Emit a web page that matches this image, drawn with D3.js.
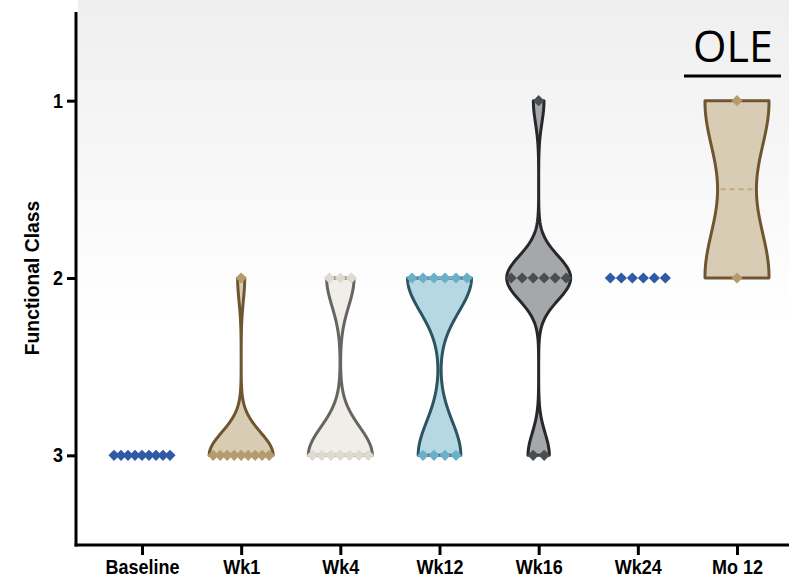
<!DOCTYPE html>
<html>
<head>
<meta charset="utf-8">
<script src="https://cdn.jsdelivr.net/npm/d3@7"></script>
<style>
  html, body { margin: 0; padding: 0; background: #ffffff; }
  svg { display: block; }
</style>
</head>
<body>
<svg id="chart" width="789" height="577"></svg>
<script>
// ---------------- DATA ----------------
const categories = ["Baseline", "Wk1", "Wk4", "Wk12", "Wk16", "Wk24", "Mo 12"];
const baseline = [3, 3, 3, 3, 3, 3, 3, 3, 3];
const wk1  = [3, 3, 3, 3, 3, 3, 3, 3, 3, 2];
const wk4  = [2, 2, 2, 3, 3, 3, 3, 3, 3, 3];
const wk12 = [2, 2, 2, 2, 2, 2, 3, 3, 3, 3];
const wk16 = [1, 2, 2, 2, 2, 2, 2, 3, 3];
const wk24 = [2, 2, 2, 2, 2, 2];
const mo12 = [1, 2];
const yTicks = [1, 2, 3];
const yDomain = [0.5, 3.5];
const sectionLabel = "OLE";
const yTitle = "Functional Class";

// ---------------- STYLE ----------------
const groups = [baseline, wk1, wk4, wk12, wk16, wk24, mo12];
const fills    = [null, "#d9ccb4", "#f0eee9", "#b5d8e3", "#a6a7aa", null, "#d9ccb4"];
const outlines = [null, "#6f5630", "#676562", "#2c5561", "#27282a", null, "#6f5630"];
const dots     = ["#2f5aa6", "#b59b6e", "#dedad0", "#6ab0ca", "#4a4d52", "#2f5aa6", "#b59b6e"];
const bandwidths = [0.13, 0.13, 0.16, 0.19, 0.125, 0.13, 0.325];
const violinHalf = 32;
const labelFont = "'Liberation Sans', Arial, sans-serif";

const svg = d3.select("#chart");

// background haze
const defs = svg.append("defs");
const grad = defs.append("linearGradient").attr("id", "bg").attr("x1", 0).attr("y1", 0).attr("x2", 0).attr("y2", 1);
grad.append("stop").attr("offset", "0%").attr("stop-color", "#efefef");
grad.append("stop").attr("offset", "40%").attr("stop-color", "#f5f5f5");
grad.append("stop").attr("offset", "100%").attr("stop-color", "#ffffff");
svg.append("rect").attr("x", 78).attr("y", 0).attr("width", 711).attr("height", 320).attr("fill", "url(#bg)");

const y = d3.scaleLinear().domain(yDomain).range([12, 544]);
const x = d3.scalePoint().domain(categories).range([142, 737]);

// violins
function kde(values, h, grid) {
  return grid.map(v => {
    const dens = d3.sum(values, d => Math.exp(-0.5 * ((v - d) / h) ** 2));
    return { v, dens };
  });
}

groups.forEach((vals, i) => {
  if (!fills[i] || !d3.deviation(vals)) return;
  const [lo, hi] = d3.extent(vals);
  const grid = d3.range(0, 201).map(k => lo + (hi - lo) * k / 200);
  const est = kde(vals, bandwidths[i], grid);
  const maxD = d3.max(est, d => d.dens);
  const w = d3.scaleLinear().domain([0, maxD]).range([0, violinHalf]);
  const cx = x(categories[i]);
  const area = d3.area()
    .x0(d => cx - w(d.dens))
    .x1(d => cx + w(d.dens))
    .y(d => y(d.v));
  svg.append("path")
    .attr("d", area(est))
    .attr("fill", fills[i])
    .attr("stroke", outlines[i])
    .attr("stroke-width", 3)
    .attr("stroke-linejoin", "round");
  // median line
  const med = d3.median(vals);
  const md = est.reduce((a, b) => Math.abs(b.v - med) < Math.abs(a.v - med) ? b : a);
  svg.append("line")
    .attr("x1", cx - w(md.dens) + 3).attr("x2", cx + w(md.dens) - 3)
    .attr("y1", y(med)).attr("y2", y(med))
    .attr("stroke", "#c4a87a").attr("stroke-width", 2)
    .attr("stroke-dasharray", "5,4");
});

// diamonds
const dsz = 5.6;
const diamond = `M0,${-dsz}L${dsz},0L0,${dsz}L${-dsz},0Z`;
groups.forEach((vals, i) => {
  const cx = x(categories[i]);
  const byVal = d3.group(vals, d => d);
  byVal.forEach((arr, v) => {
    const n = arr.length;
    const step = n > 1 ? Math.min(11, 56 / (n - 1)) : 0;
    arr.forEach((d, k) => {
      const px = cx + (k - (n - 1) / 2) * step;
      svg.append("path")
        .attr("d", diamond)
        .attr("transform", `translate(${px},${y(d)})`)
        .attr("fill", dots[i]);
    });
  });
});

// axes
const yAxis = svg.append("g")
  .attr("transform", "translate(76,0)")
  .call(d3.axisLeft(y).tickValues(yTicks).tickFormat(d3.format("d")).tickSize(9).tickSizeOuter(0));
yAxis.select(".domain").remove();
yAxis.selectAll(".tick line").attr("stroke", "#000").attr("stroke-width", 3);
yAxis.selectAll(".tick text")
  .attr("x", 0)
  .attr("transform", "translate(-13,0) scale(0.9,1)")
  .attr("font-family", labelFont)
  .attr("font-weight", "bold").attr("font-size", 20).attr("fill", "#000");

const xAxis = svg.append("g")
  .attr("transform", "translate(0,545)")
  .call(d3.axisBottom(x).tickSize(10).tickSizeOuter(0));
xAxis.select(".domain").remove();
xAxis.selectAll(".tick line").attr("stroke", "#000").attr("stroke-width", 3);
xAxis.selectAll(".tick text")
  .attr("y", 0).attr("dy", 0)
  .attr("transform", "translate(0,29) scale(0.9,1)")
  .attr("font-family", labelFont)
  .attr("font-weight", "bold").attr("font-size", 20).attr("fill", "#000");

svg.append("line").attr("x1", 76).attr("x2", 76).attr("y1", y(yDomain[0])).attr("y2", 546.5)
  .attr("stroke", "#000").attr("stroke-width", 3);
svg.append("line").attr("x1", 74.5).attr("x2", 789).attr("y1", 545).attr("y2", 545)
  .attr("stroke", "#000").attr("stroke-width", 3);

// y title
svg.append("text")
  .attr("transform", `translate(39,${y(2)}) rotate(-90) scale(0.92,1)`)
  .attr("text-anchor", "middle")
  .attr("font-family", labelFont)
  .attr("font-weight", "bold").attr("font-size", 21)
  .text(yTitle);

// OLE label
svg.append("text")
  .attr("x", 733).attr("y", 62)
  .attr("text-anchor", "middle")
  .attr("font-family", "'Open Sans', sans-serif")
  .attr("font-size", 43)
  .attr("fill", "#000")
  .text(sectionLabel);
svg.append("line").attr("x1", 684).attr("x2", 781).attr("y1", 76).attr("y2", 76)
  .attr("stroke", "#000").attr("stroke-width", 3);
</script>
</body>
</html>
